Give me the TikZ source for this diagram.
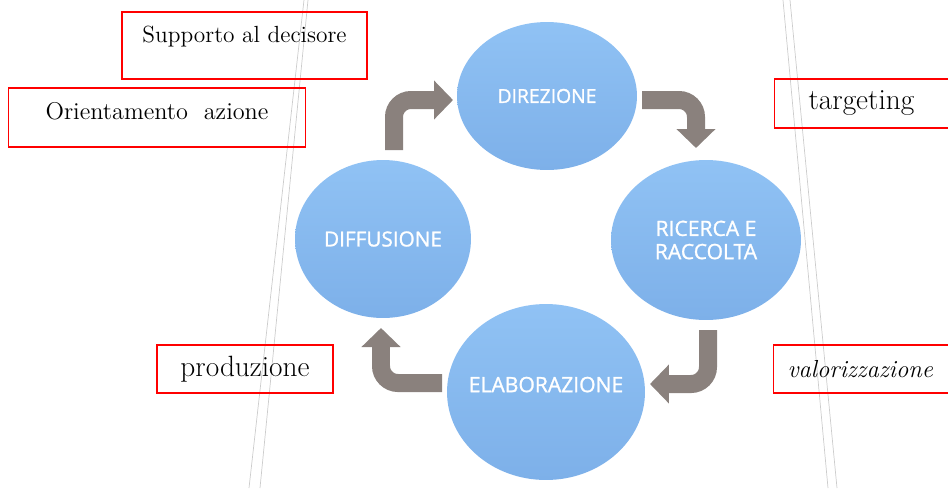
\documentclass[tikz,border=0pt]{standalone}
\usepackage{fontspec}
\newfontfamily\fasefont[FakeBold=1.2]{Open Sans}
\usetikzlibrary{shapes.geometric, arrows.meta}
\definecolor{fasetop}{HTML}{90C2F4}
\definecolor{fasebot}{HTML}{7DB0E9}
\definecolor{frecciagray}{HTML}{8A817D}

\begin{document}
\begin{tikzpicture}[x = 0.02cm, y = -0.02cm,
  fase/.style = {ellipse, inner xsep = -0.5cm, inner ysep = -0.2cm, top color = fasetop,
    bottom color = fasebot, text = white, align = center,
    font = \fasefont\fontsize{11}{13}\selectfont},
  etichetta/.style = {draw = red, line width = 0.6pt, inner sep = 0pt},
  freccia/.style = {draw = frecciagray, line width = 0.36cm, rounded corners = 0.34cm,
    -{Triangle[width = 0.76cm, length = 0.38cm]}},
  traccia/.style = {draw = gray!40, line width = 0.4pt}]
\useasboundingbox (0, 0) rectangle (948, 488);
\clip (0, 0) rectangle (948, 488);

\draw[traccia] (304, 0) -- (249, 488);
\draw[traccia] (308, 0) -- (260, 488);
\draw[traccia] (783, 0) -- (828, 488);
\draw[traccia] (790, 0) -- (837, 488);

\node[fase, minimum width = 3.6cm, minimum height = 2.96cm] (dir) at (547, 96) {DIREZIONE};
\node[fase, minimum width = 3.8cm, minimum height = 3.2cm,
  font = \fasefont\fontsize{12}{13.2}\selectfont] (ric) at (706, 240) {RICERCA E\\RACCOLTA};
\node[fase, minimum width = 3.96cm, minimum height = 3.52cm, text depth = 0.3cm,
  font = \fasefont\fontsize{12}{13}\selectfont] (ela) at (546, 392) {ELABORAZIONE};
\node[fase, minimum width = 3.52cm, minimum height = 3.16cm,
  font = \fasefont\fontsize{11.8}{13}\selectfont] (dif) at (383, 239) {DIFFUSIONE};

\coordinate (f1a) at (394, 150);
\coordinate (f1b) at (453, 100);
\coordinate (f2a) at (642, 100);
\coordinate (f2b) at (696, 148);
\coordinate (f3a) at (708, 330);
\coordinate (f3b) at (650, 384);
\coordinate (f4a) at (442, 383);
\coordinate (f4b) at (381, 328);
\draw[freccia] (f1a) |- (f1b);
\draw[freccia] (f2a) -| (f2b);
\draw[freccia] (f3a) |- (f3b);
\draw[freccia] (f4a) -| (f4b);

\node[etichetta, minimum width = 4.9cm, minimum height = 1.34cm, text depth = 0.44cm,
  font = \fontsize{13.3}{15}\selectfont] (sup) at (244.5, 45.5) {Supporto al decisore};
\node[etichetta, minimum width = 5.96cm, minimum height = 1.18cm, text depth = 0.28cm,
  font = \fontsize{13.8}{15}\selectfont] (ori) at (157, 117.5) {Orientamento\ \ azione};
\node[etichetta, anchor = west, inner xsep = 0.68cm, text width = 3.4cm, align = left,
  minimum height = 0.98cm, font = \fontsize{16.7}{18}\selectfont] (tar) at (774, 103.5) {targeting};
\node[etichetta, anchor = west, inner xsep = 0.28cm, text width = 3.6cm, align = left,
  minimum height = 0.96cm, font = \itshape\fontsize{14}{16}\selectfont] (val) at (773, 369) {valorizzazione};
\node[etichetta, minimum width = 3.52cm, minimum height = 0.96cm,
  font = \fontsize{16.7}{18}\selectfont] (pro) at (245, 369) {produzione};
\end{tikzpicture}
\end{document}
